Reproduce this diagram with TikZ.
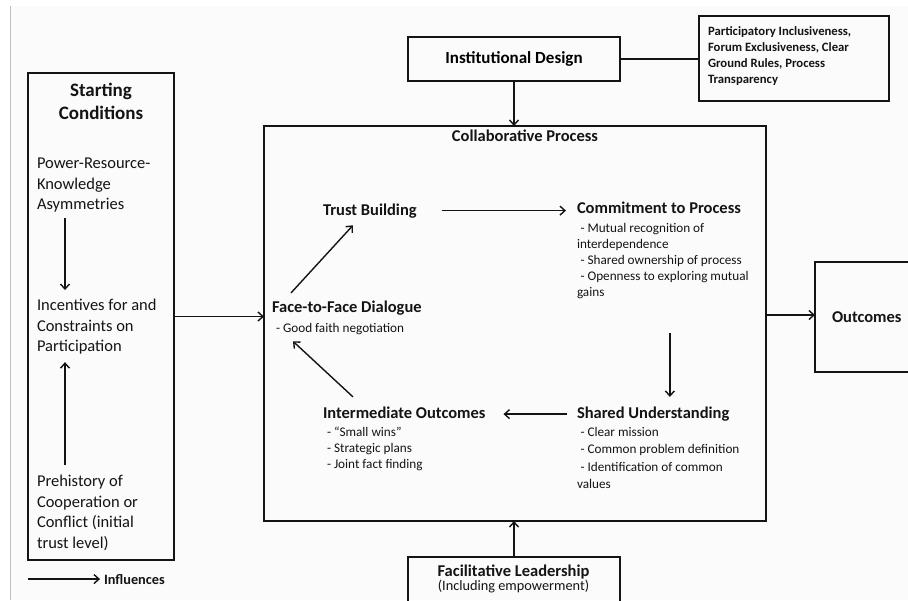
\documentclass[tikz,border=0pt]{standalone}
\usepackage{fontspec}
\setmainfont{Carlito}
\usetikzlibrary{arrows.meta}
\definecolor{ink}{HTML}{141414}
\definecolor{bgpage}{HTML}{FBFBFB}
\begin{document}
\begin{tikzpicture}[x=1pt,y=-1pt,
  box/.style={draw=ink, line width=2.2pt, inner sep=0pt, outer sep=0pt},
  txt/.style={inner sep=0pt, outer sep=0pt, text=ink, align=left},
  hd/.style={txt, font=\fontsize{16.5}{20}\selectfont\bfseries},
  bl/.style={txt, font=\fontsize{13.2}{16}\selectfont},
  body/.style={txt, font=\fontsize{16.5}{20.5}\selectfont},
  arr/.style={draw=ink, line width=1.4pt, -{Straight Barb[length=5pt,width=9pt]}},
  plain/.style={draw=ink, line width=1.4pt},
]
\useasboundingbox (0,0) rectangle (908,600);
\fill[white] (0,0) rectangle (908,600);
\fill[bgpage] (10,6) rectangle (908,600);
\draw[black!25, line width=0.8pt] (10.5,6) -- (10.5,600);

% boxes
\node[box, minimum width=146pt, minimum height=487pt] (sc) at (101,316.5) {};
\node[box, minimum width=212pt, minimum height=44pt, font=\fontsize{17}{20}\selectfont\bfseries] (inst) at (514,59) {Institutional Design};
\node[box, minimum width=190pt, minimum height=85pt] (part) at (794,58.5) {};
\node[box, minimum width=502pt, minimum height=395pt] (collab) at (515,323.5) {};
\node[box, minimum width=110pt, minimum height=110pt] (out) at (870,317) {};
\node[box, minimum width=212pt, minimum height=63pt] (fac) at (514,588.5) {};

% texts: participatory (anchor base = last line)
\node[txt, anchor=base west, font=\fontsize{12.7}{16}\selectfont\bfseries] (partt) at (708,83.5)
  {Participatory Inclusiveness,\\Forum Exclusiveness, Clear\\Ground Rules, Process\\Transparency};

% starting conditions
\node[txt, align=center, anchor=base, font=\fontsize{19}{23}\selectfont\bfseries] (sct) at (101,119.5) {Starting\\Conditions};
\node[body, anchor=base west] (power) at (37,209.5) {Power-Resource-\\Knowledge\\Asymmetries};
\node[body, anchor=base west] (incent) at (37,351.5) {Incentives for and\\Constraints on\\Participation};
\node[body, anchor=base west] (prehist) at (37,548) {Prehistory of\\Cooperation or\\Conflict (initial\\trust level)};

% legend
\coordinate (lg) at (28,0);
\node[txt, anchor=base west, font=\fontsize{14.3}{17}\selectfont\bfseries] (infl) at (104,584) {Influences};

% collaborative process
\node[hd, anchor=base] (cpt) at (525,141) {Collaborative Process};
\node[hd, anchor=base west] (trust) at (323,215) {Trust Building};
\node[hd, anchor=base west] (commit) at (577,213.5) {Commitment to Process};
\node[bl, anchor=base west] (commitb) at (577,296) {\hspace*{3.5pt}- Mutual recognition of\\interdependence\\\hspace*{3.5pt}- Shared ownership of process\\\hspace*{3.5pt}- Openness to exploring mutual\\gains};
\node[hd, anchor=base west] (shared) at (577,418.5) {Shared Understanding};
\node[bl, anchor=base west, font=\fontsize{13.2}{17.5}\selectfont] (sharedb) at (577,488.5) {\hspace*{3.5pt}- Clear mission\\\hspace*{3.5pt}- Common problem definition\\\hspace*{3.5pt}- Identification of common\\values};
\node[hd, anchor=base west] (inter) at (323,418.5) {Intermediate Outcomes};
\node[bl, anchor=base west, font=\fontsize{13.2}{16.3}\selectfont] (interb) at (327,468.6) {- “Small wins”\\- Strategic plans\\- Joint fact finding};
\node[hd, anchor=base west] (face) at (272,312.5) {Face-to-Face Dialogue};
\node[bl, anchor=base west] (faceb) at (276,332) {- Good faith negotiation};

% outcomes / facilitative texts
\node[hd, anchor=base west] (outt) at (832,322) {Outcomes};
\node[txt, align=center, anchor=base, font=\fontsize{16.5}{14.5}\selectfont\bfseries] (fact) at (513.5,590.5)
  {Facilitative Leadership\\{\fontsize{14.3}{14.5}\selectfont\mdseries (Including empowerment)}};

% connectors
\draw[plain] (inst.east) -- (inst.east -| part.west);
\draw[arr] (inst.south) -- (inst.south |- collab.north);
\draw[arr] (fac.north) -- (fac.north |- collab.south);
\draw[arr] (sc.east) -- (sc.east -| collab.west);
\draw[arr] ([yshift=8.5pt]collab.east) -- ([yshift=8.5pt]collab.east -| out.west);
\draw[arr] (infl.west -| lg) -- ([xshift=-4pt]infl.west);

\draw[arr] ([xshift=28pt,yshift=-6pt]power.south west) -- ([xshift=28pt,yshift=9pt]incent.north west);
\draw[arr] ([xshift=28pt,yshift=10pt]prehist.north west) -- ([xshift=28pt,yshift=-8pt]incent.south west);

\draw[arr] ([xshift=25pt]trust.east) -- ([xshift=-11pt]trust.east -| commit.west);
\path ([xshift=7pt,yshift=-35pt]commitb.south) coordinate (cs1);
\draw[arr] (cs1) -- ([yshift=10pt]shared.north -| cs1);
\draw[arr] ([xshift=-10pt]shared.west) -- ([xshift=18pt]shared.west -| inter.east);
\draw[arr] ([xshift=30pt,yshift=10pt]inter.north west) -- ([xshift=17pt,yshift=-7pt]faceb.south west);
\draw[arr] ([xshift=19pt,yshift=8pt]face.north west) -- ([xshift=30pt,yshift=-7.5pt]trust.south west);
\end{tikzpicture}
\end{document}
